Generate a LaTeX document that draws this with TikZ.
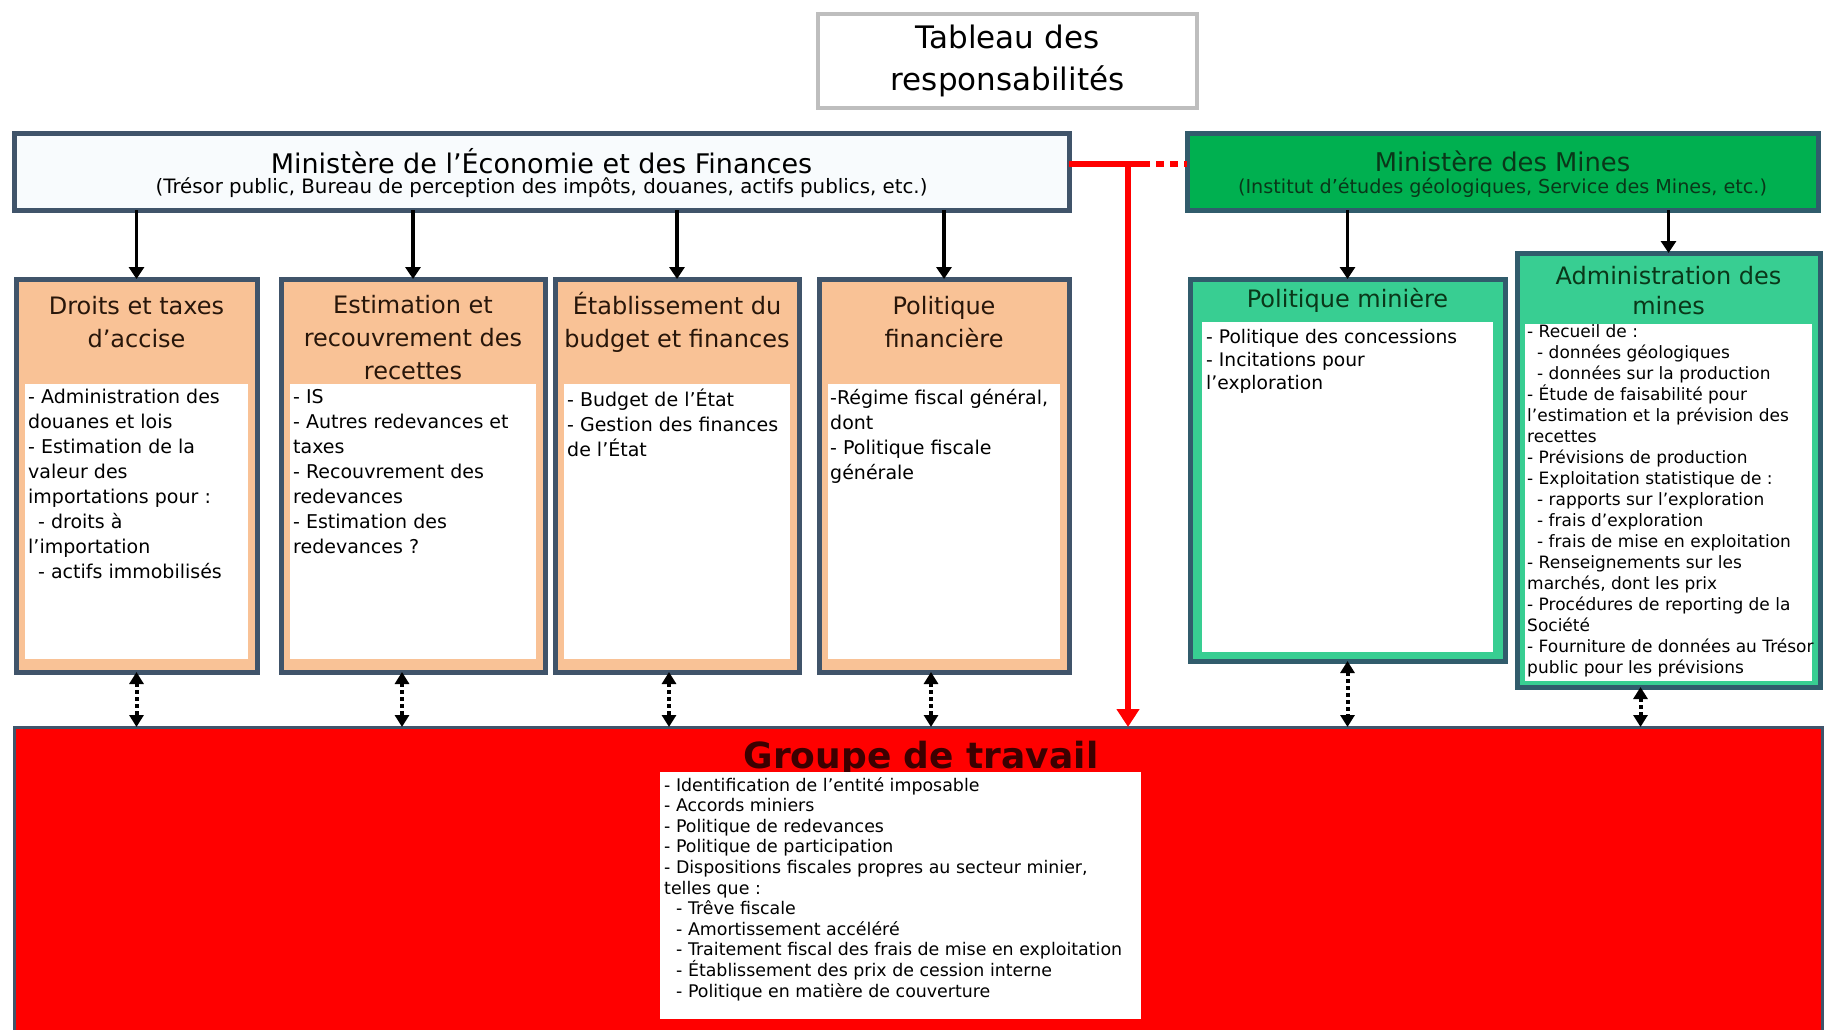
\documentclass[tikz,border=0pt]{standalone}
\usepackage{fontspec}
\setmainfont{DejaVu Sans}
\usetikzlibrary{arrows.meta}

\definecolor{slate}{RGB}{64,84,106}
\definecolor{ecowhite}{RGB}{248,251,253}
\definecolor{peach}{RGB}{249,194,150}
\definecolor{minegreen}{RGB}{0,176,80}
\definecolor{mint}{RGB}{56,206,146}
\definecolor{tealedge}{RGB}{49,92,108}
\definecolor{darkgreen}{RGB}{10,55,25}
\definecolor{darkbrown}{RGB}{40,22,10}
\definecolor{maroon}{RGB}{60,0,0}
\definecolor{titlegray}{RGB}{190,190,190}

\begin{document}
\begin{tikzpicture}[x=1pt,y=-1pt,
  finbox/.style={draw=slate, fill=peach, line width=5pt, inner sep=0pt, outer sep=0pt, anchor=north west},
  minbox/.style={draw=tealedge, fill=mint, line width=5pt, inner sep=0pt, outer sep=0pt, anchor=north west},
  headtext/.style={font=\fontsize{24}{33}\selectfont, align=center, text=darkbrown, inner sep=0pt},
  minhead/.style={font=\fontsize{24}{30}\selectfont, align=center, text=darkgreen, inner sep=0pt},
  bodytext/.style={font=\fontsize{19}{25}\selectfont, align=left, anchor=north west, inner sep=0pt},
  downarrow/.style={line width=3.5pt, -{Triangle[length=12pt,width=15pt]}},
  dotlink/.style={line width=4pt, dash pattern=on 4pt off 3pt, {Triangle[length=12pt,width=14pt]}-{Triangle[length=12pt,width=14pt]}},
  redline/.style={red, line width=6pt}]
  \useasboundingbox (0,0) rectangle (1825,1030);

  % Title
  \node[draw=titlegray, line width=4pt, fill=white, minimum width=379pt, minimum height=94pt,
    align=center, font=\fontsize{31}{42}\selectfont] (title) at (1007.5,61) {Tableau des\\responsabilités};

  % Ministries
  \node[draw=slate, fill=ecowhite, line width=5pt, minimum width=1055pt, minimum height=76pt, outer sep=0pt] (eco) at (541.5,172) {};
  \node[font=\fontsize{27}{30}\selectfont] (econame) at (541.5,161) {Ministère de l'Économie et des Finances};
  \node[font=\fontsize{19.8}{22}\selectfont] (ecosub) at (541.5,188) {(Trésor public, Bureau de perception des impôts, douanes, actifs publics, etc.)};

  \node[draw=tealedge, fill=minegreen, line width=5pt, minimum width=631pt, minimum height=76pt, outer sep=0pt] (mines) at (1502.5,172) {};
  \node[font=\fontsize{25.8}{28}\selectfont, text=darkgreen] (minesname) at (1502.5,161) {Ministère des Mines};
  \node[font=\fontsize{19.2}{22}\selectfont, text=darkgreen] (minessub) at (1502.5,188) {(Institut d'études géologiques, Service des Mines, etc.)};

  % Finance departments
  \node[finbox, minimum width=241pt, minimum height=393pt] (droits) at (16,279) {};
  \fill[white] (25,384) rectangle (248,659);
  \node[headtext] (droitshead) at (136.5,322) {Droits et taxes\\d'accise};
  \node[bodytext] (droitsbody) at (28,389) {- Administration des\\douanes et lois\\- Estimation de la\\valeur des\\importations pour :\\\hspace*{10pt}- droits à\\l'importation\\\hspace*{10pt}- actifs immobilisés};

  \node[finbox, minimum width=264pt, minimum height=393pt] (estim) at (281,279) {};
  \fill[white] (290,384) rectangle (536,659);
  \node[headtext] (estimhead) at (413,338) {Estimation et\\recouvrement des\\recettes};
  \node[bodytext] (estimbody) at (293,389) {- IS\\- Autres redevances et\\taxes\\- Recouvrement des\\redevances\\- Estimation des\\redevances ?};

  \node[finbox, minimum width=244pt, minimum height=393pt] (budget) at (555,279) {};
  \fill[white] (564,384) rectangle (790,659);
  \node[headtext] (budgethead) at (677,322) {Établissement du\\budget et finances};
  \node[bodytext] (budgetbody) at (567,389) {- Budget de l'État\\- Gestion des finances\\de l'État};

  \node[finbox, minimum width=250pt, minimum height=393pt] (polfin) at (819,279) {};
  \fill[white] (828,384) rectangle (1060,659);
  \node[headtext] (polfinhead) at (944,322) {Politique\\financière};
  \node[bodytext] (polfinbody) at (830,389) {-Régime fiscal général,\\dont\\- Politique fiscale\\générale};

  % Mining departments
  \node[minbox, minimum width=315pt, minimum height=382pt] (minpol) at (1190,279) {};
  \fill[white] (1202,322) rectangle (1493,652);
  \node[minhead] (minpolhead) at (1347.5,300) {Politique minière};
  \node[bodytext, font=\fontsize{18.7}{23}\selectfont] (minpolbody) at (1206,329) {- Politique des concessions\\- Incitations pour\\l'exploration};

  \node[minbox, minimum width=303pt, minimum height=434pt] (minadm) at (1517,253) {};
  \fill[white] (1525,324) rectangle (1812,681);
  \node[minhead] (minadmhead) at (1668.5,291) {Administration des\\mines};
  \node[bodytext, font=\fontsize{17}{21}\selectfont] (minadmbody) at (1527,324) {- Recueil de :\\\hspace*{10pt}- données géologiques\\\hspace*{10pt}- données sur la production\\- Étude de faisabilité pour\\l'estimation et la prévision des\\recettes\\- Prévisions de production\\- Exploitation statistique de :\\\hspace*{10pt}- rapports sur l'exploration\\\hspace*{10pt}- frais d'exploration\\\hspace*{10pt}- frais de mise en exploitation\\- Renseignements sur les\\marchés, dont les prix\\- Procédures de reporting de la\\Société\\- Fourniture de données au Trésor\\public pour les prévisions};

  % Working group
  \node[draw=slate, fill=red, line width=3pt, minimum width=1808pt, minimum height=320pt,
    anchor=north west, inner sep=0pt, outer sep=0pt] (groupe) at (14,727) {};
  \node[font=\bfseries\fontsize{36}{40}\selectfont, text=maroon] (groupename) at (921,759) {Groupe de travail};
  \fill[white] (660,772) rectangle (1141,1019);
  \node[bodytext, font=\fontsize{17.4}{20.6}\selectfont] (groupebody) at (664,777) {- Identification de l'entité imposable\\- Accords miniers\\- Politique de redevances\\- Politique de participation\\- Dispositions fiscales propres au secteur minier,\\telles que :\\\hspace*{12pt}- Trêve fiscale\\\hspace*{12pt}- Amortissement accéléré\\\hspace*{12pt}- Traitement fiscal des frais de mise en exploitation\\\hspace*{12pt}- Établissement des prix de cession interne\\\hspace*{12pt}- Politique en matière de couverture};

  % Ministry to departments
  \draw[downarrow] (eco.south -| droits.north) -- (droits.north);
  \draw[downarrow] (eco.south -| estim.north) -- (estim.north);
  \draw[downarrow] (eco.south -| budget.north) -- (budget.north);
  \draw[downarrow] (eco.south -| polfin.north) -- (polfin.north);
  \draw[downarrow] (mines.south -| minpol.north) -- (minpol.north);
  \draw[downarrow] (mines.south -| minadm.north) -- (minadm.north);

  % Departments to working group
  \draw[dotlink] (droits.south) -- (droits.south |- groupe.north);
  \draw[dotlink] ([xshift=-11pt]estim.south) -- ([xshift=-11pt]estim.south |- groupe.north);
  \draw[dotlink] ([xshift=-8pt]budget.south) -- ([xshift=-8pt]budget.south |- groupe.north);
  \draw[dotlink] ([xshift=-13pt]polfin.south) -- ([xshift=-13pt]polfin.south |- groupe.north);
  \draw[dotlink] (minpol.south) -- (minpol.south |- groupe.north);
  \draw[dotlink] ([xshift=-28pt]minadm.south) -- ([xshift=-28pt]minadm.south |- groupe.north);

  % Link between ministries
  \coordinate (redjoin) at (1128,164);
  \coordinate (reddot) at (1142,164);
  \draw[redline] (eco.east |- redjoin) -- (reddot);
  \draw[redline, dash pattern=on 8pt off 6pt] (reddot) -- (mines.west |- redjoin);
  \draw[redline, -{Triangle[length=18pt,width=22pt]}] (redjoin) -- (redjoin |- groupe.north);

\end{tikzpicture}
\end{document}
